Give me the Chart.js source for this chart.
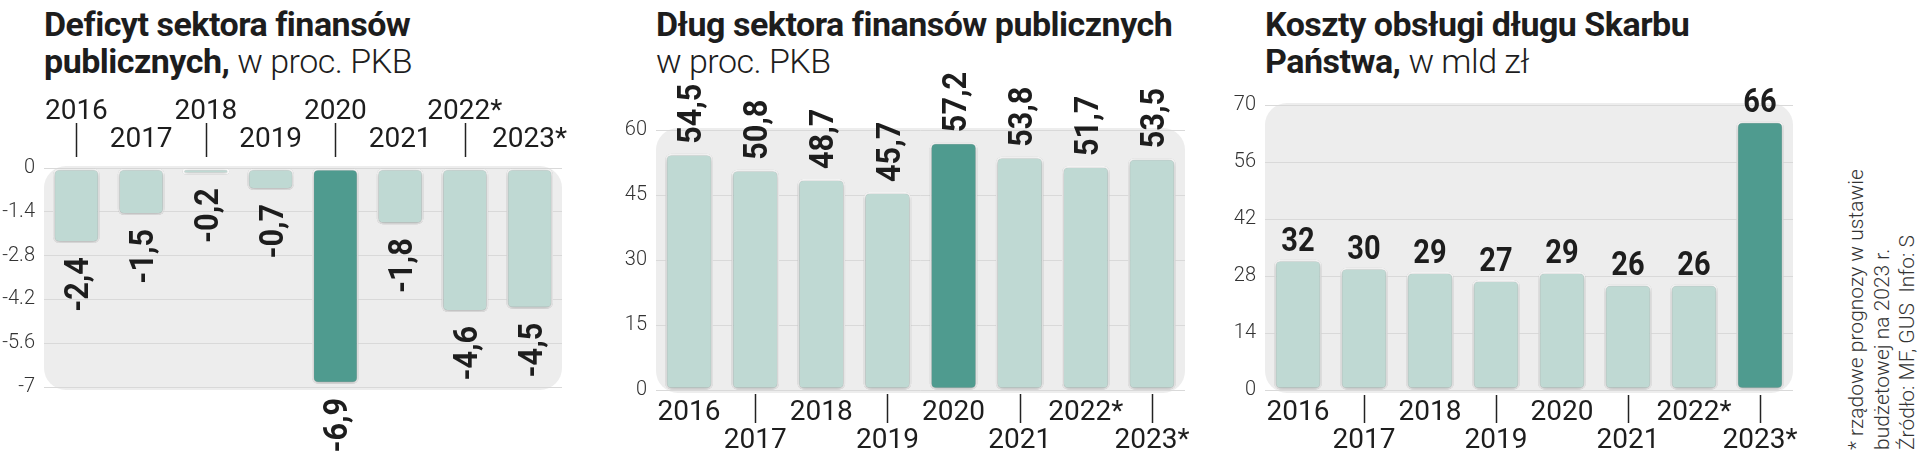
<!DOCTYPE html>
<html>
<head>
<meta charset="utf-8">
<script src="https://cdn.jsdelivr.net/npm/chart.js@4.4.0/dist/chart.umd.min.js"></script>
<style>
  body { margin: 0; background: #fff; width: 1920px; height: 460px; overflow: hidden; position: relative; font-family: Roboto, sans-serif; color: #1d1d1d; }
  canvas { position: absolute; top: 0; }
  .title { position: absolute; top: 6px; font-size: 34px; line-height: 37px; white-space: nowrap; letter-spacing: -0.5px; }
  .title b { font-weight: 700; }
  .title span { font-weight: 300; }
  .note { position: absolute; left: 1844px; top: 450px; transform-origin: 0 0; transform: rotate(-90deg); font-size: 21px; font-weight: 300; line-height: 25.5px; color: #333; white-space: nowrap; }
</style>
</head>
<body>
<div class="title" style="left:44px"><b>Deficyt sektora finansów</b><br><b>publicznych,</b> <span>w proc. PKB</span></div>
<div class="title" style="left:656px"><b>Dług sektora finansów publicznych</b><br><span>w proc. PKB</span></div>
<div class="title" style="left:1265px"><b>Koszty obsługi długu Skarbu</b><br><b>Państwa,</b> <span>w mld zł</span></div>
<div class="note">* rządowe prognozy w ustawie<br>budżetowej na 2023 r.<br>Źródło: MF, GUS&nbsp; Info: S</div>

<canvas id="deficit" width="620" height="460" style="left:0px"></canvas>
<canvas id="debt" width="620" height="460" style="left:600px"></canvas>
<canvas id="cost" width="600" height="460" style="left:1220px"></canvas>

<script>
// data
const years = ['2016', '2017', '2018', '2019', '2020', '2021', '2022*', '2023*'];
const deficit = [-2.4, -1.5, -0.2, -0.7, -6.9, -1.8, -4.6, -4.5];
const debt = [54.5, 50.8, 48.7, 45.7, 57.2, 53.8, 51.7, 53.5];
const cost = [32, 30, 29, 27, 29, 26, 26, 66];
const deficitTicks = [-7, -5.6, -4.2, -2.8, -1.4, 0];
const debtTicks = [0, 15, 30, 45, 60];
const costTicks = [0, 14, 28, 42, 56, 70];

const LIGHT = '#bfd9d3';
const DARK = '#4f9b8f';

// background panel, bar shadow, value labels, tick strokes
const decor = {
  id: 'decor',
  beforeDraw(chart) {
    const { ctx, chartArea: a } = chart;
    ctx.save();
    ctx.fillStyle = '#ededed';
    ctx.beginPath();
    ctx.roundRect(a.left, a.top - 2, a.right - a.left, a.bottom - a.top + 5, 22);
    ctx.fill();
    ctx.restore();
  },
  beforeDatasetsDraw(chart) {
    const ctx = chart.ctx;
    ctx.save();
    ctx.shadowColor = 'rgba(0,0,0,0.4)';
    ctx.shadowBlur = 4;
    ctx.shadowOffsetY = 1;
  },
  afterDatasetsDraw(chart, args, o) {
    const { ctx, chartArea: a } = chart;
    ctx.restore();
    const meta = chart.getDatasetMeta(0);
    const vals = chart.data.datasets[0].data;
    ctx.save();
    ctx.fillStyle = '#1d1d1d';
    ctx.font = '700 ' + o.size + 'px Roboto';
    meta.data.forEach((bar, i) => {
      const v = vals[i];
      const txt = o.fmt(v);
      ctx.save();
      if (o.rotate) {
        const neg = v < 0;
        ctx.translate(bar.x, neg ? bar.y + o.gap : bar.y - o.gap);
        ctx.rotate(-Math.PI / 2);
        ctx.scale(o.squeeze, 1);
        ctx.textAlign = neg ? 'right' : 'left';
        ctx.textBaseline = 'alphabetic';
        ctx.fillText(txt, 0, o.size * 0.355);
      } else {
        ctx.translate(bar.x, bar.y - o.gap);
        ctx.scale(o.squeeze, 1);
        ctx.textAlign = 'center';
        ctx.textBaseline = 'alphabetic';
        ctx.fillText(txt, 0, 0);
      }
      ctx.restore();
    });
    // little vertical strokes under the far row of year labels
    const xs = chart.scales.x;
    ctx.strokeStyle = '#222';
    ctx.lineWidth = 1.5;
    o.tickIdx.forEach(i => {
      const x = Math.round(xs.getPixelForValue(i)) + 0.5;
      const edge = o.top ? a.top : a.bottom;
      ctx.beginPath();
      ctx.moveTo(x, edge + o.t1);
      ctx.lineTo(x, edge + o.t2);
      ctx.stroke();
    });
    ctx.restore();
  }
};

function comma(v) { return v.toFixed(1).replace('.', ','); }

function makeChart(id, values, ticks, hi, cfg) {
  return new Chart(document.getElementById(id), {
    type: 'bar',
    data: {
      labels: years,
      datasets: [{
        data: values,
        backgroundColor: values.map((v, i) => i === hi ? DARK : LIGHT),
        borderColor: '#ffffff',
        borderWidth: 2,
        borderRadius: 6,
        borderSkipped: false,
        barPercentage: 0.72,
        categoryPercentage: 1
      }]
    },
    options: {
      responsive: false,
      animation: false,
      layout: { padding: cfg.padding },
      plugins: {
        legend: { display: false },
        tooltip: { enabled: false },
        decor: cfg.decor
      },
      scales: {
        x: {
          position: cfg.xPos,
          grid: { display: false, drawTicks: false },
          border: { display: false },
          afterFit: s => { s.height = cfg.xH; },
          ticks: {
            autoSkip: false, maxRotation: 0, minRotation: 0,
            padding: cfg.xPad,
            color: '#1d1d1d',
            font: { family: 'Roboto', size: 28, lineHeight: 1 },
            callback: (v, i) => i % 2 === 0 ? [years[i], ''] : ['', years[i]]
          }
        },
        y: {
          min: ticks[0],
          max: ticks[ticks.length - 1],
          afterBuildTicks: s => { s.ticks = ticks.map(v => ({ value: v })); },
          afterFit: s => { s.width = cfg.yW; },
          grid: { color: '#d9d9d9', drawTicks: false },
          border: { display: false },
          ticks: {
            padding: 9,
            color: '#333',
            font: { family: 'Roboto', size: 20, weight: 300 },
            callback: v => String(v)
          }
        }
      }
    },
    plugins: [decor]
  });
}

makeChart('deficit', deficit, deficitTicks, 4, {
  padding: { left: 0, right: 58, top: 90, bottom: 73 },
  xPos: 'top', xH: 78, xPad: 14, yW: 44,
  decor: { rotate: true, gap: 14, size: 34, squeeze: 0.9, fmt: comma, tickIdx: [0, 2, 4, 6], top: true, t1: -45, t2: -11 }
});

makeChart('debt', debt, debtTicks, 4, {
  padding: { left: 0, right: 35, top: 130, bottom: 0 },
  xPos: 'bottom', xH: 70, xPad: 9, yW: 56,
  decor: { rotate: true, gap: 10, size: 34, squeeze: 0.9, fmt: comma, tickIdx: [1, 3, 5, 7], top: false, t1: 4, t2: 33 }
});

makeChart('cost', cost, costTicks, 7, {
  padding: { left: 0, right: 27, top: 105, bottom: 0 },
  xPos: 'bottom', xH: 70, xPad: 9, yW: 45,
  decor: { rotate: false, gap: 9, size: 33, squeeze: 0.88, fmt: v => String(v), tickIdx: [1, 3, 5, 7], top: false, t1: 5, t2: 33 }
});
</script>
</body>
</html>
